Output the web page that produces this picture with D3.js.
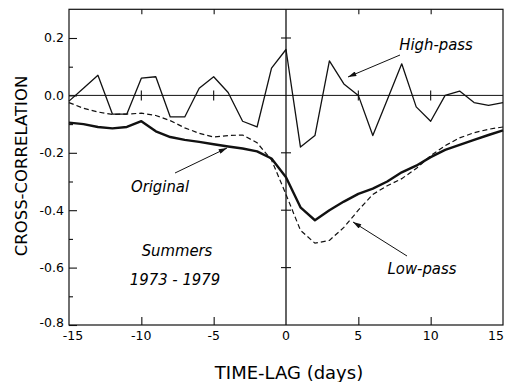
<!DOCTYPE html>
<html>
<head>
<meta charset="utf-8">
<script src="https://cdn.jsdelivr.net/npm/d3@7"></script>
<style>
  body { margin: 0; background: #fff; }
  svg { display: block; }
</style>
</head>
<body>
<div id="chart"></div>
<script>
const lags = [-15, -14, -13, -12, -11, -10, -9, -8, -7, -6, -5, -4, -3, -2, -1, 0,
              1, 2, 3, 4, 5, 6, 7, 8, 9, 10, 11, 12, 13, 14, 15];

const highPass = [-0.02, 0.025, 0.07, -0.065, -0.065, 0.06, 0.065, -0.075, -0.075, 0.025, 0.065,
                  0.01, -0.09, -0.11, 0.095, 0.16, -0.18, -0.14, 0.12, 0.04, 0.0,
                  -0.14, -0.015, 0.11, -0.04, -0.09, 0.0, 0.015, -0.025, -0.035, -0.025];

const original = [-0.095, -0.10, -0.11, -0.115, -0.11, -0.09, -0.125, -0.145, -0.155, -0.162, -0.17,
                  -0.178, -0.185, -0.195, -0.22, -0.285, -0.39, -0.435, -0.40, -0.37, -0.343,
                  -0.325, -0.30, -0.268, -0.245, -0.215, -0.19, -0.172, -0.155, -0.138, -0.122];

const lowPass = [-0.025, -0.045, -0.058, -0.066, -0.065, -0.062, -0.07, -0.088, -0.113, -0.132, -0.145,
                 -0.14, -0.138, -0.165, -0.225, -0.345, -0.47, -0.515, -0.505, -0.46, -0.40,
                 -0.345, -0.315, -0.29, -0.255, -0.21, -0.175, -0.148, -0.13, -0.118, -0.11];

const xTickValues = [-15, -10, -5, 0, 5, 10, 15];
const xTickLabels = ["-15", "-10", "-5", "0", "5", "10", "15"];
const yTickValues = [0.2, 0.0, -0.2, -0.4, -0.6, -0.8];
const yTickLabels = ["0.2", "0.0", "-0.2", "-0.4", "-0.6", "-0.8"];
const yMinorValues = [0.1, -0.1, -0.3, -0.5, -0.7];

class LagChart {

    constructor(selector) {
        this.width = 509;
        this.height = 382;
        this.ink = "#111";

        this.svg = d3.select(selector)
            .append("svg")
            .attr("width", this.width)
            .attr("height", this.height)
            .style("font-family", "'DejaVu Sans', sans-serif");

        this.x = d3.scaleLinear().domain([-15, 15]).range([69, 503]);
        this.y = d3.scaleLinear().domain([-0.8, 0.3]).range([325, 9.3]);

        this.drawFrame();
        this.drawLines();
        this.drawNotes();
    }

    drawFrame() {
        const x = this.x, y = this.y, svg = this.svg;
        const [x0, x1] = x.range();
        const [yb, yt] = y.range();

        // inward ticks on the left side
        svg.append("g").attr("transform", `translate(${x0},0)`)
            .call(d3.axisRight(y).tickValues(yTickValues).tickSize(8).tickFormat(""))
            .call(g => g.select(".domain").remove());
        svg.append("g").attr("transform", `translate(${x0},0)`)
            .call(d3.axisRight(y).tickValues(yMinorValues).tickSize(4).tickFormat(""))
            .call(g => g.select(".domain").remove());

        // y labels
        svg.append("g").selectAll("text")
            .data(yTickValues)
            .join("text")
            .attr("x", x0 - 5)
            .attr("y", d => y(d) - (d === -0.8 ? 2 : 0))
            .attr("dy", "0.35em")
            .attr("text-anchor", "end")
            .style("font-size", "12.5px")
            .text((d, i) => yTickLabels[i]);

        // bottom and top ticks
        const inner = xTickValues.filter(d => d !== -15 && d !== 15 && d !== 0);
        svg.append("g").attr("transform", `translate(0,${yb})`)
            .call(d3.axisTop(x).tickValues(inner).tickSize(8).tickFormat(""))
            .call(g => g.select(".domain").remove());
        svg.append("g").attr("transform", `translate(0,${yt})`)
            .call(d3.axisBottom(x).tickValues(inner).tickSize(5).tickFormat(""))
            .call(g => g.select(".domain").remove());

        svg.append("g").selectAll("text")
            .data(xTickValues)
            .join("text")
            .attr("x", d => Math.min(Math.max(x(d), 73), 496))
            .attr("y", 340)
            .attr("text-anchor", "middle")
            .style("font-size", "12.5px")
            .text((d, i) => xTickLabels[i]);

        svg.selectAll(".tick line").attr("stroke", this.ink).attr("stroke-width", 1.1);

        // zero lines with cross marks
        svg.append("line")
            .attr("x1", x0).attr("x2", x1)
            .attr("y1", y(0)).attr("y2", y(0))
            .attr("stroke", this.ink).attr("stroke-width", 1);
        svg.append("line")
            .attr("x1", x(0)).attr("x2", x(0))
            .attr("y1", yt).attr("y2", yb)
            .attr("stroke", this.ink).attr("stroke-width", 1.3);

        svg.append("g").selectAll("line")
            .data(inner)
            .join("line")
            .attr("x1", d => x(d)).attr("x2", d => x(d))
            .attr("y1", y(0) - 5).attr("y2", y(0) + 5)
            .attr("stroke", this.ink).attr("stroke-width", 1.1);
        svg.append("g").selectAll("line")
            .data(yTickValues.filter(d => d !== 0 && d !== -0.8))
            .join("line")
            .attr("x1", x(0) - 5).attr("x2", x(0) + 5)
            .attr("y1", d => y(d)).attr("y2", d => y(d))
            .attr("stroke", this.ink).attr("stroke-width", 1.1);

        // frame
        svg.append("rect")
            .attr("x", x0).attr("y", yt)
            .attr("width", x1 - x0).attr("height", yb - yt)
            .attr("fill", "none")
            .attr("stroke", this.ink)
            .attr("stroke-width", 1.2);

        // axis titles
        svg.append("text")
            .attr("x", x(0) + 3)
            .attr("y", 379)
            .attr("text-anchor", "middle")
            .style("font-size", "18px")
            .text("TIME-LAG (days)");

        svg.append("text")
            .attr("transform", "translate(27,166) rotate(-90)")
            .attr("text-anchor", "middle")
            .style("font-size", "16.5px")
            .text("CROSS-CORRELATION");
    }

    drawLines() {
        const line = d3.line()
            .x((d, i) => this.x(lags[i]))
            .y(d => this.y(d));

        this.svg.append("path")
            .datum(lowPass)
            .attr("d", line)
            .attr("fill", "none")
            .attr("stroke", this.ink)
            .attr("stroke-width", 1.2)
            .attr("stroke-dasharray", "5,3");

        this.svg.append("path")
            .datum(original)
            .attr("d", line)
            .attr("fill", "none")
            .attr("stroke", this.ink)
            .attr("stroke-width", 2.4)
            .attr("stroke-linejoin", "round");

        this.svg.append("path")
            .datum(highPass)
            .attr("d", line)
            .attr("fill", "none")
            .attr("stroke", this.ink)
            .attr("stroke-width", 1.3)
            .attr("stroke-linejoin", "round");
    }

    drawNotes() {
        const svg = this.svg;

        svg.append("defs").append("marker")
            .attr("id", "head")
            .attr("viewBox", "0 0 10 6")
            .attr("refX", 10).attr("refY", 3)
            .attr("markerWidth", 11).attr("markerHeight", 5)
            .attr("markerUnits", "userSpaceOnUse")
            .attr("orient", "auto")
            .append("path")
            .attr("d", "M0,0L10,3L0,6Z")
            .attr("fill", this.ink);

        const notes = [
            {text: "High-pass", x: 436, y: 50, from: [400, 55], to: [348, 77]},
            {text: "Original", x: 160, y: 192, from: [175, 173], to: [227, 148]},
            {text: "Low-pass", x: 422, y: 274, from: [407, 256], to: [353, 222]},
            {text: "Summers", x: 177, y: 256},
            {text: "1973 - 1979", x: 175, y: 285}
        ];

        svg.append("g").selectAll("text")
            .data(notes)
            .join("text")
            .attr("x", d => d.x)
            .attr("y", d => d.y)
            .attr("text-anchor", "middle")
            .style("font-family", "'DejaVu Sans Condensed', 'DejaVu Sans', sans-serif")
            .style("font-stretch", "condensed")
            .style("font-style", "italic")
            .style("font-size", "16.5px")
            .text(d => d.text);

        svg.append("g").selectAll("line")
            .data(notes.filter(d => d.from))
            .join("line")
            .attr("x1", d => d.from[0]).attr("y1", d => d.from[1])
            .attr("x2", d => d.to[0]).attr("y2", d => d.to[1])
            .attr("stroke", this.ink)
            .attr("stroke-width", 1)
            .attr("marker-end", "url(#head)");
    }
}

new LagChart("#chart");
</script>
</body>
</html>
